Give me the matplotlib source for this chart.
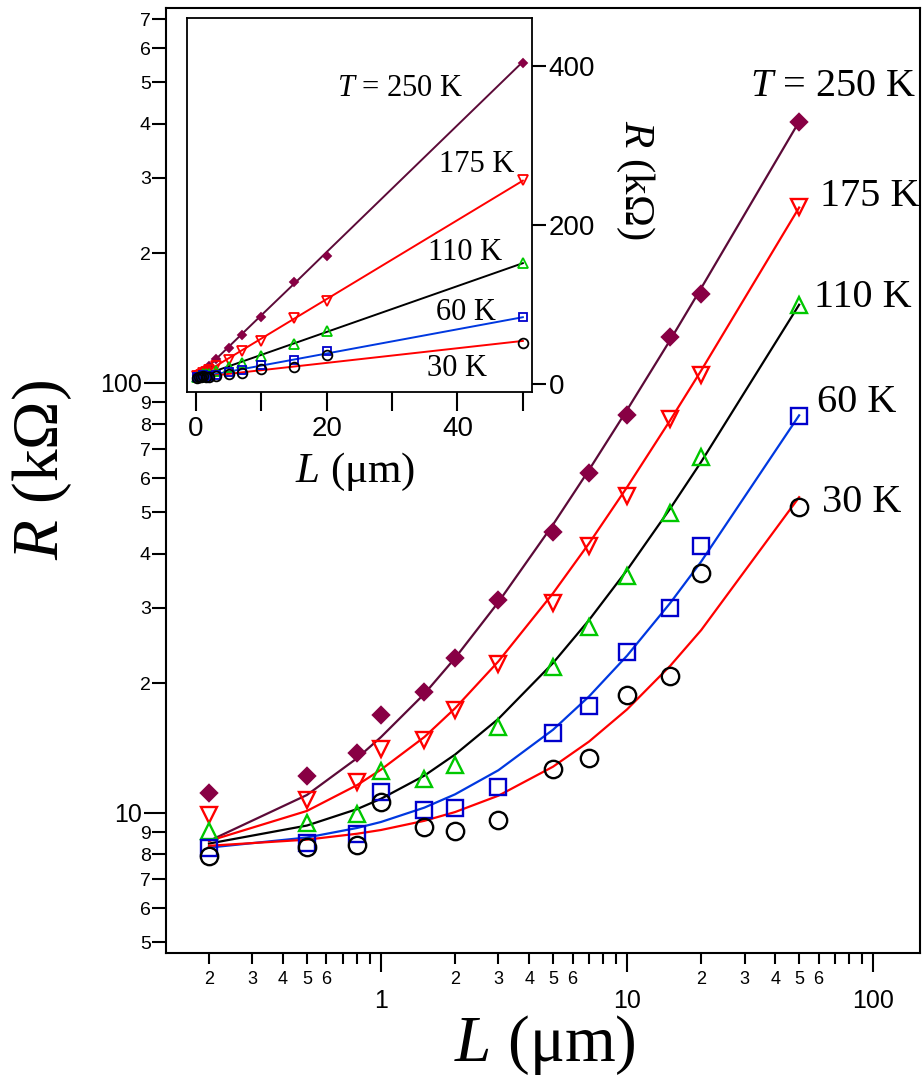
import matplotlib
matplotlib.use("Agg")
import matplotlib.pyplot as plt
from matplotlib.ticker import LogLocator, FuncFormatter, FixedLocator
import numpy as np

plt.rcParams['font.family'] = ['Liberation Sans', 'DejaVu Sans']
plt.rcParams['mathtext.fontset'] = 'custom'
plt.rcParams['mathtext.rm'] = 'Liberation Serif'
plt.rcParams['mathtext.it'] = 'Liberation Serif:italic'

# channel length (um)
L = [0.2, 0.5, 0.8, 1, 1.5, 2, 3, 5, 7, 10, 15, 20, 50]

# measured resistance (kOhm)
R_250 = [11.1, 12.2, 13.8, 16.9, 19.1, 22.9, 31.3, 44.9, 61.6, 84.2, 128, 161, 404]
R_175 = [9.9, 10.7, 11.8, 14.1, 14.8, 17.3, 22.2, 30.7, 41.7, 54.6, 82.4, 104, 256]
R_110 = [9.05, 9.46, 9.95, 12.5, 12.0, 12.9, 15.8, 21.8, 27.0, 35.6, 49.9, 67.2, 152]
R_60 = [8.28, 8.5, 8.94, 11.15, 10.16, 10.25, 11.5, 15.3, 17.7, 23.6, 30.0, 41.7, 83.7]
R_30 = [7.92, 8.32, 8.43, 10.6, 9.26, 9.05, 9.6, 12.66, 13.4, 18.75, 20.8, 36.2, 51.3]

# fitted lines (kOhm) at the same L
F_250 = [8.6, 11.0, 13.4, 15.0, 18.9, 22.9, 30.9, 46.8, 62.7, 86.5, 126, 166, 405]
F_175 = [8.6, 10.1, 11.6, 12.6, 15.0, 17.5, 22.5, 32.4, 42.3, 57.2, 82.0, 106.8, 255.6]
F_110 = [8.48, 9.34, 10.2, 10.78, 12.2, 13.66, 16.54, 22.3, 28.06, 36.7, 51.1, 65.5, 151.9]
F_60 = [8.3, 8.76, 9.22, 9.52, 10.28, 11.04, 12.56, 15.6, 18.64, 23.2, 30.8, 38.4, 84.0]
F_30 = [8.38, 8.66, 8.94, 9.12, 9.58, 10.04, 10.96, 12.8, 14.64, 17.4, 22.0, 26.6, 54.2]

series = [
    # data, fit, marker, marker colour, filled, line colour, main ms, inset ms
    (R_250, F_250, 'D', '#880044', True, '#5c0a38', 8, 4.5),
    (R_175, F_175, 'v', '#ff0000', False, '#ff0000', 12, 7),
    (R_110, F_110, '^', '#00c800', False, '#000000', 12, 7),
    (R_60, F_60, 's', '#0000cc', False, '#0038e0', 11, 6),
    (R_30, F_30, 'o', '#000000', False, '#ff0000', 12.5, 7),
]

W, H = 922, 1077
fig = plt.figure(figsize=(W / 100, H / 100), dpi=100)

# ---- main log-log axes ----
ax = fig.add_axes([166 / W, 1 - 953 / H, (920 - 166) / W, (953 - 7.5) / H])
for d, f, m, mc, filled, lc, ms, _ in series:
    ax.plot(L, f, '-', color=lc, lw=1.6, zorder=2)
    ax.plot(L, d, m, ls='none', ms=ms, mew=1.7, mec=mc,
            mfc=mc if filled else 'none', zorder=3)

ax.set_xscale('log')
ax.set_yscale('log')
ax.set_xlim(0.1338, 154.9)
ax.set_ylim(4.72, 746)

def digit(v, pos):
    return str(int(round(v / 10 ** np.floor(np.log10(v) + 1e-9))))

def xminor(v, pos):
    s = digit(v, pos)
    return s if s in ('2', '3', '4', '5', '6') else ''

ax.xaxis.set_major_locator(FixedLocator([1, 10, 100]))
ax.xaxis.set_major_formatter(FuncFormatter(lambda v, p: '%g' % v))
ax.xaxis.set_minor_locator(LogLocator(base=10, subs=range(2, 10), numticks=20))
ax.xaxis.set_minor_formatter(FuncFormatter(xminor))
ax.yaxis.set_major_locator(FixedLocator([10, 100]))
ax.yaxis.set_major_formatter(FuncFormatter(lambda v, p: '%g' % v))
ax.yaxis.set_minor_locator(LogLocator(base=10, subs=range(2, 10), numticks=20))
ax.yaxis.set_minor_formatter(FuncFormatter(digit))

ax.tick_params(axis='x', which='major', direction='out', length=14, width=1.5, pad=12, labelsize=18)
ax.tick_params(axis='x', which='minor', direction='out', length=8, width=1.5, pad=5, labelsize=13)
ax.tick_params(axis='y', which='major', direction='out', length=16, width=1.5, pad=1, labelsize=18)
ax.tick_params(axis='y', which='minor', direction='out', length=10, width=1.5, pad=1, labelsize=14)
for sp in ax.spines.values():
    sp.set_linewidth(1.5)

fig.text(42 / W, 1 - 470 / H, r'$R$ (kΩ)', rotation=90, ha='center', va='center',
         fontsize=47, family='Liberation Serif')
fig.text(545 / W, 1 - 1045 / H, r'$L$ (μm)', ha='center', va='center',
         fontsize=47, family='Liberation Serif')

main_labels = [(833, 87, r'$T$ = 250 K'), (870, 197, '175 K'), (863, 297, '110 K'),
               (857, 403, '60 K'), (862, 502, '30 K')]
for x, y, s in main_labels:
    fig.text(x / W, 1 - y / H, s, ha='center', va='center', fontsize=29,
             family='Liberation Serif')

# ---- linear inset ----
ax2 = fig.add_axes([187 / W, 1 - 392 / H, (532 - 187) / W, (392 - 18) / H])
ax2.set_facecolor('white')
for d, f, m, mc, filled, lc, _, ms2 in series:
    ax2.plot(L, f, '-', color=lc, lw=1.4, zorder=2)
    ax2.plot(L, d, m, ls='none', ms=ms2, mew=1.3, mec=mc,
             mfc=mc if filled else 'none', zorder=3)
ax2.set_xlim(-1.38, 51.4)
ax2.set_ylim(-10, 460)
ax2.set_xticks([0, 10, 20, 30, 40, 50])
ax2.set_xticklabels(['0', '', '20', '', '40', ''])
ax2.set_yticks([0, 200, 400])
ax2.yaxis.tick_right()
ax2.tick_params(axis='x', direction='out', length=14, width=1.5, pad=3, labelsize=20)
ax2.tick_params(axis='y', direction='out', length=10, width=1.5, pad=2, labelsize=20,
                left=False, right=True)
for sp in ax2.spines.values():
    sp.set_linewidth(1.3)

fig.text(635 / W, 1 - 180 / H, r'$R$ (kΩ)', rotation=-90, ha='center', va='center',
         fontsize=31, family='Liberation Serif')
fig.text(355 / W, 1 - 472 / H, r'$L$ (μm)', ha='center', va='center',
         fontsize=31, family='Liberation Serif')

inset_labels = [(400, 88, r'$T$ = 250 K'), (477, 164, '175 K'), (465, 253, '110 K'),
                (466, 313, '60 K'), (457, 368, '30 K')]
for x, y, s in inset_labels:
    fig.text(x / W, 1 - y / H, s, ha='center', va='center', fontsize=22,
             family='Liberation Serif')

fig.savefig('out.png', dpi=100)
